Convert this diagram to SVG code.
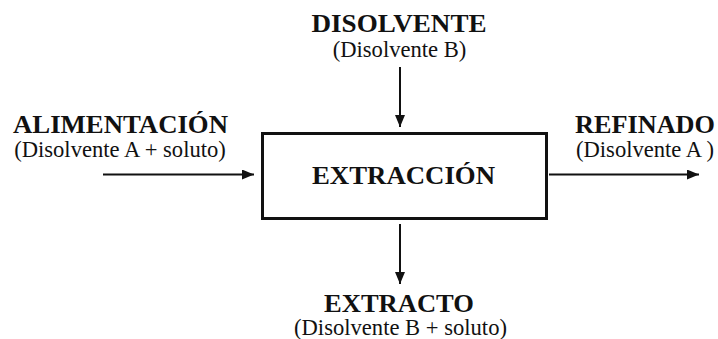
<svg xmlns="http://www.w3.org/2000/svg" width="718" height="339" viewBox="0 0 718 339">
  <style>
    .t { fill: #111; text-anchor: middle; }
    .b { font-weight: bold; }
    .edge { stroke: #111; stroke-width: 2; fill: none; }
  </style>
  <defs>
    <marker id="arr" viewBox="0 0 12 10" refX="12" refY="5" markerWidth="12" markerHeight="10" markerUnits="userSpaceOnUse" orient="auto">
      <path d="M0,0 L12,5 L0,10 Z" fill="#111"/>
    </marker>
  </defs>
  <rect width="718" height="339" fill="#fff"/>

  <g id="connectors">
    <line class="edge" x1="103" y1="174.5" x2="254" y2="174.5" marker-end="url(#arr)"/>
    <line class="edge" x1="549" y1="174.5" x2="699" y2="174.5" marker-end="url(#arr)"/>
    <line class="edge" x1="400" y1="67" x2="400" y2="127" marker-end="url(#arr)"/>
    <line class="edge" x1="400" y1="224" x2="400" y2="284" marker-end="url(#arr)"/>
  </g>

  <g id="extraccion" font-family="'Liberation Serif', serif">
    <rect x="262.5" y="133.5" width="284" height="85" fill="#fff" stroke="#111" stroke-width="3"/>
    <text class="t b" x="403.5" y="184" font-size="25" textLength="183" lengthAdjust="spacingAndGlyphs">EXTRACCIÓN</text>
  </g>

  <g id="disolvente" font-family="'Liberation Serif', serif">
    <text class="t b" x="399" y="32" font-size="25" textLength="175" lengthAdjust="spacingAndGlyphs">DISOLVENTE</text>
    <text class="t" x="399.5" y="57" font-size="22.6">(Disolvente B)</text>
  </g>

  <g id="alimentacion" font-family="'Liberation Serif', serif">
    <text class="t b" x="120.5" y="133" font-size="25" textLength="215" lengthAdjust="spacingAndGlyphs">ALIMENTACIÓN</text>
    <text class="t" x="120" y="157" font-size="22.6">(Disolvente A + soluto)</text>
  </g>

  <g id="refinado" font-family="'Liberation Serif', serif">
    <text class="t b" x="645" y="133" font-size="25" textLength="140" lengthAdjust="spacingAndGlyphs">REFINADO</text>
    <text class="t" x="645" y="157" font-size="22.6">(Disolvente A )</text>
  </g>

  <g id="extracto" font-family="'Liberation Serif', serif">
    <text class="t b" x="399" y="312" font-size="25" textLength="150" lengthAdjust="spacingAndGlyphs">EXTRACTO</text>
    <text class="t" x="400.5" y="335" font-size="22.6">(Disolvente B + soluto)</text>
  </g>
</svg>
